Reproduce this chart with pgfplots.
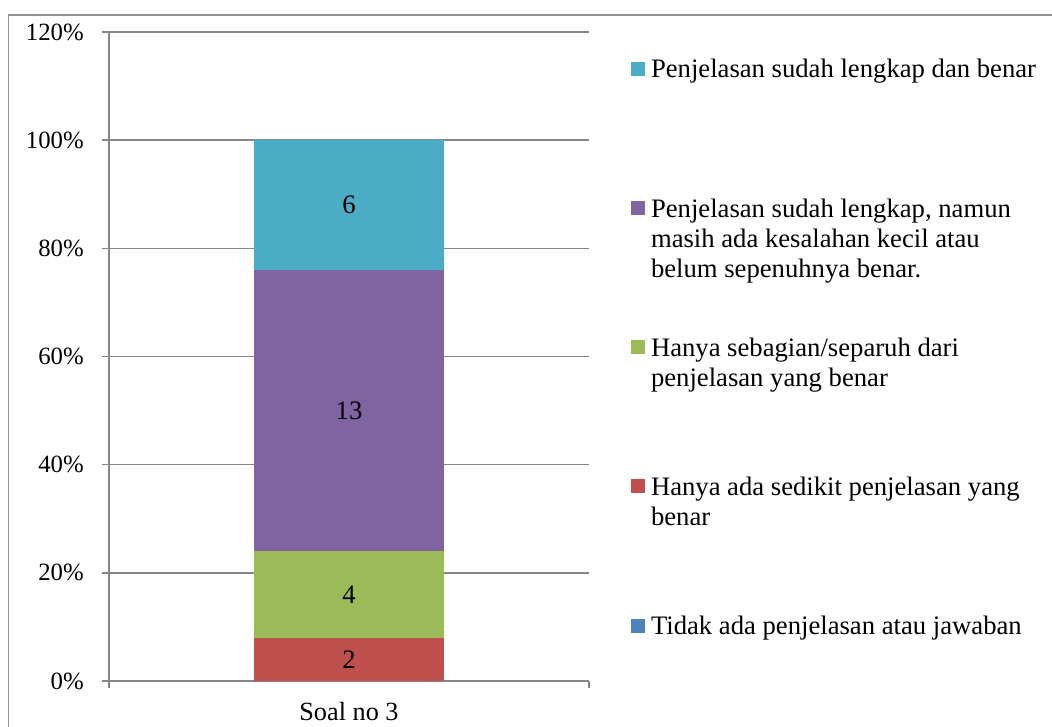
\documentclass[border=0pt]{standalone}
\usepackage{pgfplots}
\pgfplotsset{compat=1.18}
\usepackage{fontspec}
\setmainfont{Liberation Serif}
\definecolor{cCyan}{HTML}{4BACC6}
\definecolor{cPurple}{HTML}{8064A2}
\definecolor{cGreen}{HTML}{9BBB59}
\definecolor{cRed}{HTML}{C0504D}
\definecolor{cBlue}{HTML}{4F81BD}
\definecolor{linegray}{HTML}{868686}
% legend text: top-aligned box, explicit line breaks as in the reference
\newcommand{\legtext}[1]{\parbox[t]{300pt}{\strut#1}}
\begin{document}
\fontsize{20pt}{22.5pt}\selectfont
\begin{tikzpicture}[font=\fontsize{20pt}{22.5pt}\selectfont]
\useasboundingbox (-81.75pt,-33.75pt) rectangle (707.25pt,510.75pt);
\draw[linegray!90, line width=1pt] (-75.4pt,-45pt) -- (-75.4pt,499.5pt) -- (720pt,499.5pt);
\begin{axis}[
  ybar stacked,
  scale only axis,
  width=360pt, height=486.75pt,
  xmin=-0.5, xmax=0.5,
  ymin=0, ymax=30,
  bar width=0.394,
  ytick={0,5,...,30},
  yticklabels={0\%,20\%,40\%,60\%,80\%,100\%,120\%},
  yticklabel style={anchor=east, inner sep=0pt, xshift=-13.5pt,
    font=\fontsize{18.6pt}{22pt}\selectfont},
  xtick={-0.5,0.5},
  xticklabels={},
  extra x ticks={0},
  extra x tick labels={Soal no 3},
  extra x tick style={major tick length=0pt, grid=none,
    xticklabel style={anchor=base, inner sep=0pt, yshift=-29.25pt,
      font=\fontsize{19.7pt}{22pt}\selectfont}},
  ymajorgrids,
  grid style={linegray, line width=1.1pt},
  axis x line*=bottom, axis y line*=left,
  axis line style={linegray, line width=1.1pt},
  tick style={linegray, line width=1.1pt},
  major tick length=5.25pt,
  tick align=outside,
  /pgf/number format/assume math mode=true,
  every node near coord/.append style={anchor=center, text=black},
  legend image code/.code={\fill[#1] (0pt,1.5pt) rectangle (10.5pt,12pt);},
  reverse legend,
  legend style={draw=none, fill=none, at={(1.0875,0.9615)}, anchor=north west,
    inner sep=0pt, outer sep=0pt, row sep=85.6pt, column sep=4.5pt,
    nodes={inner sep=0pt, anchor=base west}},
]
\addplot[fill=cBlue, draw=none] coordinates {(0,0)};
\addlegendentry{\legtext{Tidak ada penjelasan atau jawaban}}
\addplot[fill=cRed, draw=none, nodes near coords] coordinates {(0,2)};
\addlegendentry{\legtext{Hanya ada sedikit penjelasan yang\\benar}}
\addplot[fill=cGreen, draw=none, nodes near coords] coordinates {(0,4)};
\addlegendentry{\legtext{Hanya sebagian/separuh dari\\penjelasan yang benar}}
\addplot[fill=cPurple, draw=none, nodes near coords] coordinates {(0,13)};
\addlegendentry{\legtext{Penjelasan sudah lengkap, namun\\masih ada kesalahan kecil atau\\belum sepenuhnya benar.}}
\addplot[fill=cCyan, draw=none, nodes near coords] coordinates {(0,6)};
\addlegendentry{\legtext{Penjelasan sudah lengkap dan benar}}
\end{axis}
\end{tikzpicture}
\end{document}
